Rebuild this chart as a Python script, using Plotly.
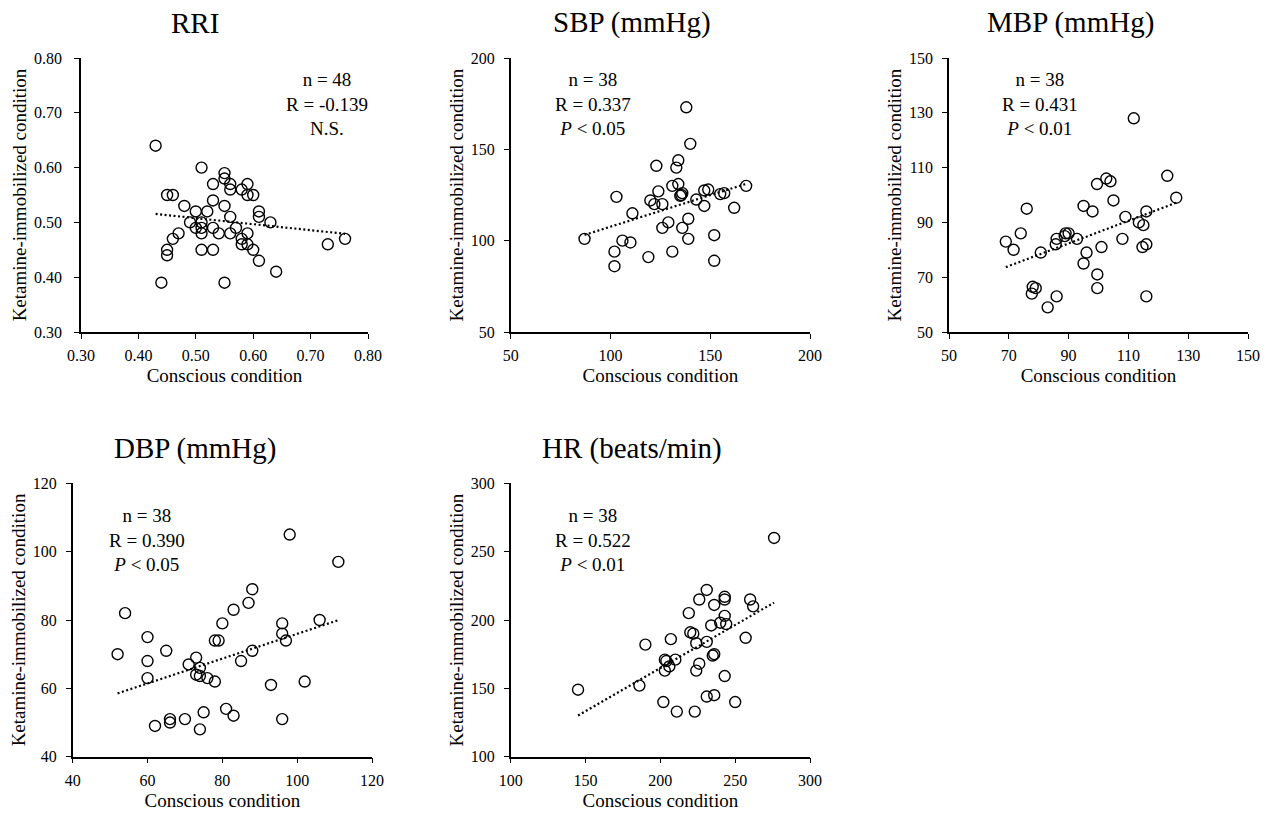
import numpy as np
import plotly.graph_objects as go

# ---------------- data ----------------
rri_x = [0.43, 0.51, 0.55, 0.55, 0.53, 0.56, 0.56, 0.59, 0.58, 0.59, 0.60, 0.45, 0.46, 0.48,
         0.53, 0.55, 0.50, 0.52, 0.61, 0.61, 0.56, 0.63, 0.49, 0.51, 0.50, 0.53, 0.47, 0.51,
         0.54, 0.56, 0.57, 0.46, 0.58, 0.76, 0.58, 0.59, 0.59, 0.73, 0.45, 0.51, 0.53, 0.60,
         0.45, 0.61, 0.64, 0.44, 0.55, 0.51]
rri_y = [0.64, 0.60, 0.59, 0.58, 0.57, 0.57, 0.56, 0.57, 0.56, 0.55, 0.55, 0.55, 0.55, 0.53,
         0.54, 0.53, 0.52, 0.52, 0.52, 0.51, 0.51, 0.50, 0.50, 0.50, 0.49, 0.49, 0.48, 0.48,
         0.48, 0.48, 0.49, 0.47, 0.47, 0.47, 0.46, 0.46, 0.48, 0.46, 0.45, 0.45, 0.45, 0.45,
         0.44, 0.43, 0.41, 0.39, 0.39, 0.49]

sbp_x = [138, 140, 123, 134, 133, 131, 134, 168, 124, 136, 135, 147, 149, 155, 157, 120, 122,
         126, 143, 147, 162, 103, 111, 139, 129, 126, 136, 139, 152, 87, 106, 110, 102, 131,
         119, 152, 102, 135.5]
sbp_y = [173, 153, 141, 144, 140, 130, 131, 130, 127, 126, 124.5, 127.5, 128, 125.5, 126, 122,
         120, 120, 122.5, 119, 118, 124, 115, 112, 110, 107, 107, 101, 103, 101, 100, 99, 94,
         94, 91, 89, 86, 125]

mbp_x = [111.8, 123, 126, 102.6, 104, 99.5, 105, 95, 98, 76, 116, 109, 113.5, 115, 74, 89, 90,
         86, 88.7, 92.8, 108, 69, 71.6, 85.7, 101, 116, 114.7, 80.7, 96, 95, 99.6, 78, 79, 77.7,
         99.6, 86, 116, 83]
mbp_y = [128, 107, 99, 106, 105, 104, 98, 96, 94, 95, 94, 92, 90, 89, 86, 86, 86, 84, 85, 84,
         84, 83, 80, 82, 81, 82, 81, 79, 79, 75, 71, 66.5, 66, 64, 66, 63, 63, 59]

dbp_x = [98, 111, 88, 87, 83, 54, 80, 106, 96, 96, 97, 78, 79, 60, 65, 52, 60, 88, 85, 73, 71,
         74, 73, 74, 76, 78, 60, 93, 102, 81, 83, 75, 66, 66, 70, 62, 74, 96]
dbp_y = [105, 97, 89, 85, 83, 82, 79, 80, 79, 76, 74, 74, 74, 75, 71, 70, 68, 71, 68, 69, 67,
         66, 64, 63.6, 63, 62, 63, 61, 62, 54, 52, 53, 51, 50, 51, 49, 48, 51]

hr_x = [276, 231, 243, 243, 226, 236, 260, 262, 219, 243, 234, 240, 244, 220, 222, 207, 224,
        231, 257, 190, 235, 236, 203, 210, 226, 206, 203, 224, 243, 186, 145, 231, 236, 202,
        250, 211, 223, 204]
hr_y = [260, 222, 217, 215, 215, 211, 215, 210, 205, 203, 196, 198, 197, 191, 190, 186, 183,
        184, 187, 182, 174, 175, 171, 171, 168, 166, 163, 163, 159, 152, 149, 144, 145, 140,
        140, 133, 133, 170]

titles = ["RRI", "SBP (mmHg)", "MBP (mmHg)", "DBP (mmHg)", "HR (beats/min)"]
stats = ["n = 48<br>R = -0.139<br>N.S.",
         "n = 38<br>R = 0.337<br><i>P</i> < 0.05",
         "n = 38<br>R = 0.431<br><i>P</i> < 0.01",
         "n = 38<br>R = 0.390<br><i>P</i> < 0.05",
         "n = 38<br>R = 0.522<br><i>P</i> < 0.01"]
x_label = "Conscious condition"
y_label = "Ketamine-immobilized condition"

# ---------------- layout geometry (pixels) ----------------
W, H = 1269, 813
panels = [
    dict(x=rri_x, y=rri_y, px=(81, 368), py=(58, 332), rng=(0.3, 0.8), dt=0.1, fmt=".2f",
         title_xy=(195, 23), stat_xy=(327, 104), ystand=9),
    dict(x=sbp_x, y=sbp_y, px=(510.7, 810), py=(58, 332), rng=(50, 200), dt=50, fmt="d",
         title_xy=(632, 23), stat_xy=(593, 104), ystand=6),
    dict(x=mbp_x, y=mbp_y, px=(949, 1248), py=(58, 332), rng=(50, 150), dt=20, fmt="d",
         title_xy=(1070, 23), stat_xy=(1040, 104), ystand=6),
    dict(x=dbp_x, y=dbp_y, px=(72.7, 372), py=(483.3, 756.7), rng=(40, 120), dt=20, fmt="d",
         title_xy=(195, 448), stat_xy=(147, 540), ystand=6),
    dict(x=hr_x, y=hr_y, px=(510.7, 810), py=(483.3, 756.7), rng=(100, 300), dt=50, fmt="d",
         title_xy=(632, 448), stat_xy=(593, 540), ystand=6),
]

FONT = "Liberation Serif, Times New Roman, serif"
fig = go.Figure()
annotations = []

for i, p in enumerate(panels):
    n = i + 1
    xa = "x" if n == 1 else f"x{n}"
    ya = "y" if n == 1 else f"y{n}"
    xs = np.array(p["x"], dtype=float)
    ys = np.array(p["y"], dtype=float)

    fig.add_trace(go.Scatter(
        x=xs, y=ys, mode="markers", xaxis=xa, yaxis=ya, showlegend=False,
        marker=dict(symbol="circle", size=11, color="rgba(255,255,255,0)",
                    line=dict(color="black", width=1.4)),
        hoverinfo="x+y"))

    slope, icpt = np.polyfit(xs, ys, 1)
    lx = np.array([xs.min(), xs.max()])
    fig.add_trace(go.Scatter(
        x=lx, y=slope * lx + icpt, mode="lines", xaxis=xa, yaxis=ya, showlegend=False,
        line=dict(color="black", width=2.2, dash="2px,2.5px"), hoverinfo="skip"))

    axis_common = dict(
        range=list(p["rng"]), dtick=p["dt"], tick0=p["rng"][0], tickformat=p["fmt"],
        showgrid=False, zeroline=False, showline=True, linecolor="black", linewidth=1.5,
        ticks="outside", ticklen=5, tickwidth=1.3, tickcolor="black",
        tickfont=dict(family=FONT, size=16, color="black"),
        automargin=False, fixedrange=True)
    xkey = "xaxis" if n == 1 else f"xaxis{n}"
    ykey = "yaxis" if n == 1 else f"yaxis{n}"
    fig.update_layout(**{
        xkey: dict(axis_common, domain=[p["px"][0] / W, p["px"][1] / W], anchor=ya,
                   ticklabelstandoff=3,
                   title=dict(text=x_label, font=dict(family=FONT, size=19, color="black"),
                              standoff=6)),
        ykey: dict(axis_common, domain=[1 - p["py"][1] / H, 1 - p["py"][0] / H], anchor=xa,
                   ticklabelstandoff=p["ystand"],
                   title=dict(text=y_label, font=dict(family=FONT, size=19, color="black"),
                              standoff=2)),
    })

    annotations.append(dict(
        text=titles[i], xref="paper", yref="paper",
        x=p["title_xy"][0] / W, y=1 - p["title_xy"][1] / H,
        xanchor="center", yanchor="middle", showarrow=False,
        font=dict(family=FONT, size=29, color="black")))
    annotations.append(dict(
        text=stats[i], xref="paper", yref="paper",
        x=p["stat_xy"][0] / W, y=1 - p["stat_xy"][1] / H,
        xanchor="center", yanchor="middle", align="center", showarrow=False,
        font=dict(family=FONT, size=19, color="black")))

fig.update_layout(
    width=W, height=H, margin=dict(l=0, r=0, t=0, b=0, autoexpand=False),
    paper_bgcolor="white", plot_bgcolor="white",
    annotations=annotations, showlegend=False)

fig.write_html("out.html", config={"displayModeBar": False},
               post_script="document.body.style.margin='0px';document.body.style.overflow='hidden';")
